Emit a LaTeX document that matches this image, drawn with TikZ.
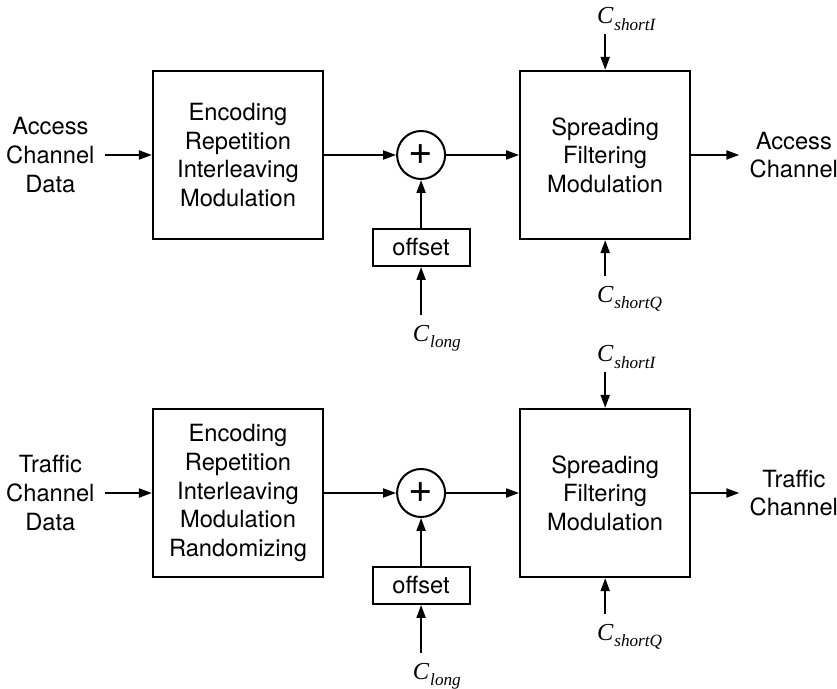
\documentclass[tikz,border=0pt]{standalone}
\usepackage{fontspec}
\setmainfont{TeX Gyre Heros}
\newfontfamily\tms{Liberation Serif}
\usetikzlibrary{positioning, arrows.meta}

% code name: italic C with a hanging subscript
\newcommand{\seqC}[1]{{\tms\itshape C\rlap{\kern0.5pt\smash{\raisebox{-3.2pt}{\fontsize{8.6}{9}\selectfont #1}}}}}

\begin{document}
\begin{tikzpicture}[x=0.5pt, y=-0.5pt,
  every node/.style={font=\fontsize{11.85}{14.3}\selectfont},
  block/.style={draw, rectangle, line width=1.1pt, align=center, inner sep=0pt,
                minimum width=85pt, minimum height=84pt},
  adder/.style={draw, circle, line width=1pt, inner sep=0pt, minimum size=24pt,
                font=\fontsize{21}{21}\selectfont},
  offbox/.style={draw, rectangle, line width=1pt, inner sep=0pt,
                 minimum width=48.5pt, minimum height=18.5pt},
  io/.style={align=center, inner sep=5pt},
  seq/.style={inner sep=0pt, outer sep=5pt, font=\fontsize{12.2}{13}\selectfont},
  arr/.style={-{Triangle[length=6.5pt, width=4.5pt]}, line width=1pt}
]
  \useasboundingbox (0,0) rectangle (837,689);

  % access channel
  \node[block] (enc1) at (238,155) {Encoding\\Repetition\\Interleaving\\Modulation};
  \node[io, left=23.5pt of enc1]   (in1)  {Access\\Channel\\Data};
  \node[adder, right=36pt of enc1] (add1) {+};
  \node[block, right=36.5pt of add1] (spr1) {Spreading\\Filtering\\Modulation};
  \node[io, right=24pt of spr1]    (out1) {Access\\Channel};
  \node[offbox, below=24pt of add1] (off1) {offset};
  \node[seq, below=24pt of off1]   (cl1)  {\seqC{long}};
  \node[seq, above=18pt of spr1]   (ci1)  {\seqC{shortI}};
  \node[seq, below=18pt of spr1]   (cq1)  {\seqC{shortQ}};
  \draw[arr] (in1)  -- (enc1);
  \draw[arr] (enc1) -- (add1);
  \draw[arr] (add1) -- (spr1);
  \draw[arr] (spr1) -- (out1);
  \draw[arr] (off1) -- (add1);
  \draw[arr] (cl1)  -- (off1);
  \draw[arr] (ci1)  -- (spr1);
  \draw[arr] (cq1)  -- (spr1);

  % traffic channel
  \node[block] (enc2) at (238,493) {Encoding\\Repetition\\Interleaving\\Modulation\\Randomizing};
  \node[io, left=23.5pt of enc2]   (in2)  {Traffic\\Channel\\Data};
  \node[adder, right=36pt of enc2] (add2) {+};
  \node[block, right=36.5pt of add2] (spr2) {Spreading\\Filtering\\Modulation};
  \node[io, right=24pt of spr2]    (out2) {Traffic\\Channel};
  \node[offbox, below=24pt of add2] (off2) {offset};
  \node[seq, below=24pt of off2]   (cl2)  {\seqC{long}};
  \node[seq, above=18pt of spr2]   (ci2)  {\seqC{shortI}};
  \node[seq, below=18pt of spr2]   (cq2)  {\seqC{shortQ}};
  \draw[arr] (in2)  -- (enc2);
  \draw[arr] (enc2) -- (add2);
  \draw[arr] (add2) -- (spr2);
  \draw[arr] (spr2) -- (out2);
  \draw[arr] (off2) -- (add2);
  \draw[arr] (cl2)  -- (off2);
  \draw[arr] (ci2)  -- (spr2);
  \draw[arr] (cq2)  -- (spr2);
\end{tikzpicture}
\end{document}
